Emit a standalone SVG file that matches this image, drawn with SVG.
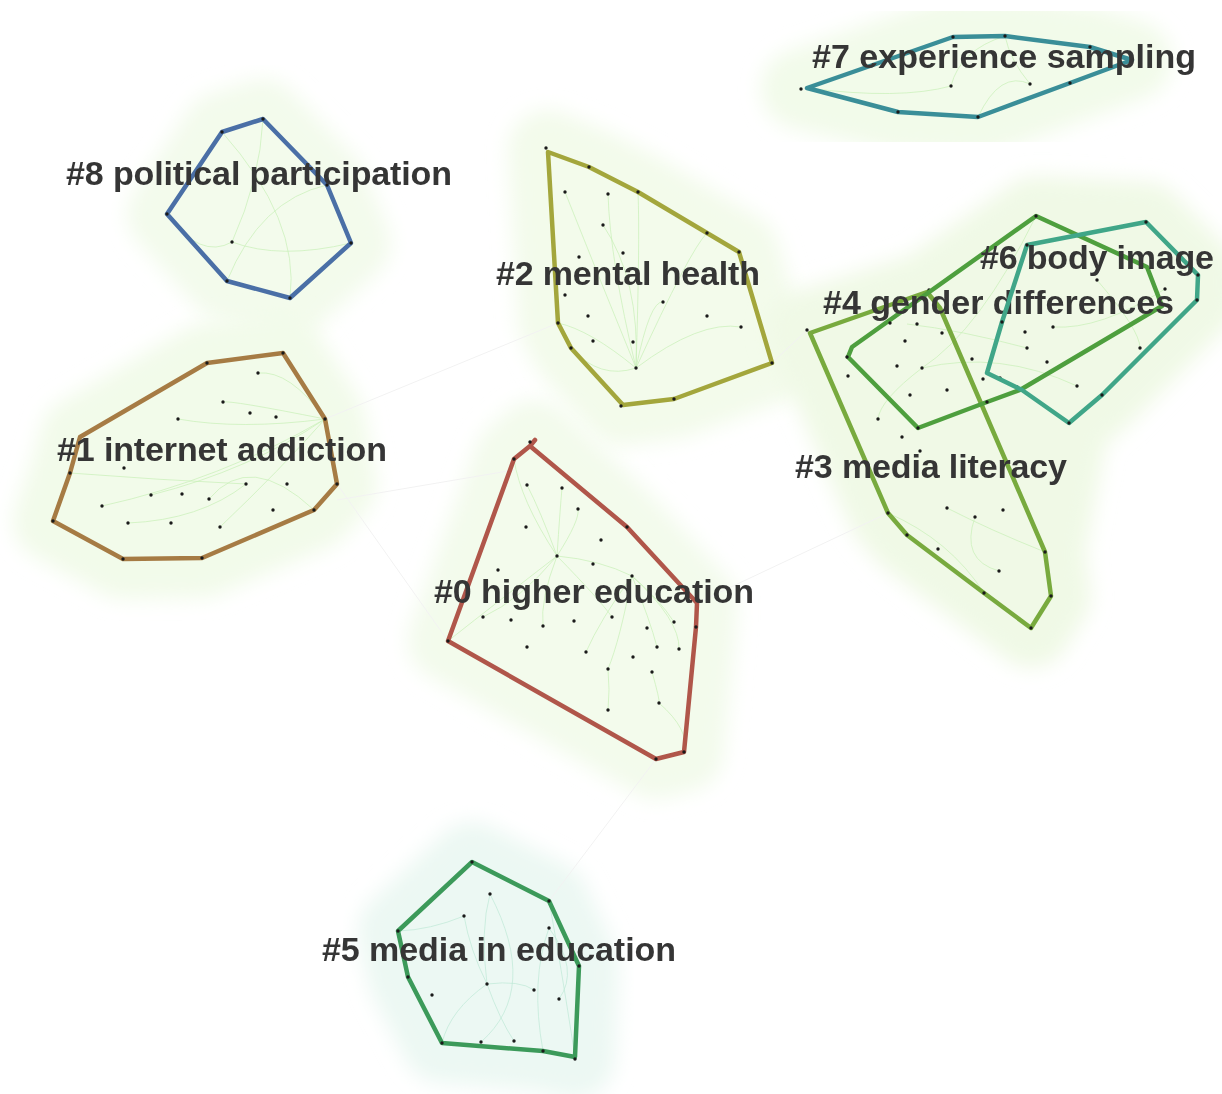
<svg xmlns="http://www.w3.org/2000/svg" width="1222" height="1094" viewBox="0 0 1222 1094">
<style>
.halo{stroke-width:80;stroke-linejoin:round;filter:url(#blur)}
.hull{fill:none;stroke-width:4.5;stroke-linejoin:round;stroke-linecap:round}
.dot{fill:#1a1a1a}
.edge{fill:none;stroke:#c9efb8;stroke-width:0.9;opacity:0.8}
.edge5{fill:none;stroke:#bfe9d6;stroke-width:0.9;opacity:0.8}
.link{stroke:#f2f2f2;stroke-width:1;fill:none}
.lbl{font-family:"Liberation Sans",Arial,Helvetica,sans-serif;font-weight:bold;font-size:34px;fill:#363636;filter:url(#soft)}
</style>
<defs>
<filter id="blur" x="-30%" y="-30%" width="160%" height="160%"><feGaussianBlur stdDeviation="10"/></filter>
<filter id="soft" x="-5%" y="-20%" width="110%" height="140%"><feGaussianBlur stdDeviation="0.6"/></filter>
</defs>
<rect width="1222" height="1094" fill="#ffffff"/>

<g id="halos">
<path class="halo" fill="#f3fbec" stroke="#f3fbec" d="M263,119 L327,185 L351,243 L290,298 L227,281 L167,214 L222,132 Z"/>
<path class="halo" fill="#f3fbeb" stroke="#f3fbeb" d="M548,150 L589,167 L638,192 L707,233 L739,252 L772,363 L674,399 L621,406 L571,348 L558,323 Z"/>
<path class="halo" fill="#f2fbea" stroke="#f2fbea" d="M801,89 L953,37 L1005,36 L1090,47 L1132,60 L1070,83 L978,117 L898,112 Z"/>
<path class="halo" fill="#f2fbea" stroke="#f2fbea" d="M207,363 L283,353 L325,419 L337,484 L314,510 L202,558 L123,559 L53,521 L70,473 L80,437 Z"/>
<path class="halo" fill="#f3fbec" stroke="#f3fbec" d="M535,440 L514,459 L448,641 L656,759 L684,752 L696,627 L697,603 L627,527 Z"/>
<path class="halo" fill="#f0f9e6" stroke="#f0f9e6" d="M807,330 L927,292 L1036,216 L1146,222 L1198,275 L1197,300 L1102,395 L1069,423 L1045,552 L1051,596 L1031,628 L984,593 L907,535 L888,513 Z"/>
<path class="halo" fill="#ecf8f3" stroke="#ecf8f3" d="M472,862 L549,901 L579,966 L575,1059 L543,1051 L442,1043 L408,977 L398,931 Z"/>
</g>

<g id="connectors">
<path class="link" d="M337,484 L448,641"/>
<path class="link" d="M325,419 L558,323"/>
<path class="link" d="M772,363 L807,330"/>
<path class="link" d="M697,603 L888,513"/>
<path class="link" d="M656,759 L549,901"/>
<path class="link" d="M337,500 L514,470"/>
<path class="edge" d="M232,242 Q260,180 263,119"/>
<path class="edge" d="M232,242 Q280,260 351,243"/>
<path class="edge" d="M232,242 Q200,260 167,214"/>
<path class="edge" d="M222,132 Q300,220 290,298"/>
<path class="edge" d="M227,281 Q260,200 327,185"/>
<path class="edge" d="M636,368 Q600,280 565,192"/>
<path class="edge" d="M636,368 Q610,260 608,194"/>
<path class="edge" d="M636,368 Q640,280 603,225"/>
<path class="edge" d="M636,368 Q650,300 663,302"/>
<path class="edge" d="M636,368 Q700,320 741,327"/>
<path class="edge" d="M636,368 Q590,330 558,323"/>
<path class="edge" d="M636,368 Q600,380 571,348"/>
<path class="edge" d="M636,368 Q690,250 707,233"/>
<path class="edge" d="M636,368 Q640,240 638,192"/>
<path class="edge" d="M325,419 Q240,430 178,419"/>
<path class="edge" d="M325,419 Q250,470 151,495"/>
<path class="edge" d="M325,419 Q220,480 102,506"/>
<path class="edge" d="M325,419 Q280,470 220,527"/>
<path class="edge" d="M325,419 Q290,370 258,373"/>
<path class="edge" d="M325,419 Q230,400 223,402"/>
<path class="edge" d="M246,484 Q160,480 70,473"/>
<path class="edge" d="M246,484 Q200,520 128,523"/>
<path class="edge" d="M314,510 Q250,450 209,499"/>
<path class="edge" d="M557,556 Q540,510 527,485"/>
<path class="edge" d="M557,556 Q560,510 562,488"/>
<path class="edge" d="M557,556 Q580,520 578,509"/>
<path class="edge" d="M557,556 Q520,500 514,459"/>
<path class="edge" d="M557,556 Q600,560 632,576"/>
<path class="edge" d="M557,556 Q520,600 483,617"/>
<path class="edge" d="M557,556 Q540,600 543,626"/>
<path class="edge" d="M557,556 Q600,600 612,617"/>
<path class="edge" d="M557,556 Q500,600 448,641"/>
<path class="edge" d="M632,576 Q660,600 674,622"/>
<path class="edge" d="M632,576 Q650,620 657,647"/>
<path class="edge" d="M632,576 Q600,620 586,652"/>
<path class="edge" d="M632,576 Q620,640 608,669"/>
<path class="edge" d="M632,576 Q680,620 679,649"/>
<path class="edge" d="M652,672 Q660,700 659,703"/>
<path class="edge" d="M659,703 Q690,730 684,752"/>
<path class="edge" d="M608,669 Q610,690 608,710"/>
<path class="edge" d="M1027,348 Q960,330 907,324"/>
<path class="edge" d="M922,368 Q980,330 1036,216"/>
<path class="edge" d="M922,368 Q1000,350 1077,386"/>
<path class="edge" d="M922,368 Q880,400 878,419"/>
<path class="edge" d="M947,508 Q990,530 1045,552"/>
<path class="edge" d="M975,517 Q960,560 999,571"/>
<path class="edge" d="M888,513 Q950,540 984,593"/>
<path class="edge" d="M1097,280 Q1140,330 1140,348"/>
<path class="edge" d="M1053,327 Q1100,330 1165,289"/>
<path class="edge5" d="M487,984 Q470,950 464,916"/>
<path class="edge5" d="M487,984 Q480,930 490,894"/>
<path class="edge5" d="M487,984 Q520,980 534,990"/>
<path class="edge5" d="M487,984 Q450,1010 442,1043"/>
<path class="edge5" d="M487,984 Q500,1020 514,1041"/>
<path class="edge5" d="M464,916 Q430,930 398,931"/>
<path class="edge5" d="M549,928 Q530,980 543,1051"/>
<path class="edge5" d="M549,928 Q580,970 559,999"/>
<path class="edge5" d="M549,901 Q560,960 575,1057"/>
<path class="edge5" d="M490,894 Q540,990 481,1042"/>
<path class="edge" d="M951,86 Q960,50 1005,36"/>
<path class="edge" d="M951,86 Q900,100 807,88"/>
<path class="edge" d="M1030,84 Q1010,60 1005,36"/>
<path class="edge" d="M978,117 Q1000,70 1030,84"/>
</g>

<g id="cluster-8">
<path class="hull" stroke="#4a6fa6" d="M263,119 L327,185 L351,243 L290,298 L227,281 L167,214 L222,132 Z"/>
<g class="dot"><circle cx="263" cy="119" r="1.7"/><circle cx="222" cy="132" r="1.7"/><circle cx="167" cy="214" r="1.7"/><circle cx="227" cy="281" r="1.7"/><circle cx="290" cy="298" r="1.7"/><circle cx="351" cy="243" r="1.7"/><circle cx="232" cy="242" r="1.7"/><circle cx="327" cy="185" r="1.7"/></g>
<text class="lbl" x="66" y="185" textLength="386" lengthAdjust="spacing">#8 political participation</text>
</g>

<g id="cluster-2">
<path class="hull" stroke="#a3a63c" d="M548,152 L589,167 L638,192 L707,233 L739,252 L772,363 L674,399 L623,405 L571,348 L558,323 Z"/>
<g class="dot"><circle cx="546" cy="148" r="1.7"/><circle cx="589" cy="167" r="1.7"/><circle cx="638" cy="192" r="1.7"/><circle cx="707" cy="233" r="1.7"/><circle cx="739" cy="252" r="1.7"/><circle cx="772" cy="363" r="1.7"/><circle cx="674" cy="399" r="1.7"/><circle cx="621" cy="406" r="1.7"/><circle cx="571" cy="348" r="1.7"/><circle cx="558" cy="323" r="1.7"/><circle cx="565" cy="192" r="1.7"/><circle cx="608" cy="194" r="1.7"/><circle cx="603" cy="225" r="1.7"/><circle cx="579" cy="257" r="1.7"/><circle cx="623" cy="253" r="1.7"/><circle cx="565" cy="295" r="1.7"/><circle cx="588" cy="316" r="1.7"/><circle cx="663" cy="302" r="1.7"/><circle cx="707" cy="316" r="1.7"/><circle cx="741" cy="327" r="1.7"/><circle cx="593" cy="341" r="1.7"/><circle cx="633" cy="342" r="1.7"/><circle cx="636" cy="368" r="1.7"/></g>
<text class="lbl" x="496" y="285" textLength="264" lengthAdjust="spacing">#2 mental health</text>
</g>

<g id="cluster-7">
<path class="hull" stroke="#3a8e98" d="M807,88 L953,37 L1005,36 L1090,47 L1132,60 L1070,83 L978,117 L898,112 Z"/>
<g class="dot"><circle cx="801" cy="89" r="1.7"/><circle cx="953" cy="37" r="1.7"/><circle cx="1005" cy="36" r="1.7"/><circle cx="1090" cy="47" r="1.7"/><circle cx="1132" cy="60" r="1.7"/><circle cx="1070" cy="83" r="1.7"/><circle cx="978" cy="117" r="1.7"/><circle cx="898" cy="112" r="1.7"/><circle cx="951" cy="86" r="1.7"/><circle cx="1030" cy="84" r="1.7"/></g>
<text class="lbl" x="812" y="68" textLength="384" lengthAdjust="spacing">#7 experience sampling</text>
</g>

<g id="cluster-1">
<path class="hull" stroke="#a67b44" d="M207,363 L283,353 L325,419 L337,484 L314,510 L202,558 L123,559 L53,521 L70,473 L80,437 Z"/>
<g class="dot"><circle cx="207" cy="363" r="1.7"/><circle cx="283" cy="353" r="1.7"/><circle cx="325" cy="419" r="1.7"/><circle cx="337" cy="484" r="1.7"/><circle cx="314" cy="510" r="1.7"/><circle cx="202" cy="558" r="1.7"/><circle cx="123" cy="559" r="1.7"/><circle cx="53" cy="521" r="1.7"/><circle cx="70" cy="473" r="1.7"/><circle cx="258" cy="373" r="1.7"/><circle cx="223" cy="402" r="1.7"/><circle cx="250" cy="413" r="1.7"/><circle cx="276" cy="417" r="1.7"/><circle cx="178" cy="419" r="1.7"/><circle cx="124" cy="468" r="1.7"/><circle cx="246" cy="484" r="1.7"/><circle cx="287" cy="484" r="1.7"/><circle cx="151" cy="495" r="1.7"/><circle cx="182" cy="494" r="1.7"/><circle cx="209" cy="499" r="1.7"/><circle cx="102" cy="506" r="1.7"/><circle cx="273" cy="510" r="1.7"/><circle cx="128" cy="523" r="1.7"/><circle cx="171" cy="523" r="1.7"/><circle cx="220" cy="527" r="1.7"/></g>
<text class="lbl" x="57" y="461" textLength="330" lengthAdjust="spacing">#1 internet addiction</text>
</g>

<g id="cluster-0">
<path class="hull" stroke="#b0564a" d="M535,440 L530,446 L514,459 L448,641 L656,759 L684,752 L696,627 L697,603 L627,527 L530,446"/>
<g class="dot"><circle cx="530" cy="442" r="1.7"/><circle cx="514" cy="459" r="1.7"/><circle cx="627" cy="527" r="1.7"/><circle cx="696" cy="627" r="1.7"/><circle cx="684" cy="752" r="1.7"/><circle cx="656" cy="759" r="1.7"/><circle cx="448" cy="641" r="1.7"/><circle cx="527" cy="485" r="1.7"/><circle cx="562" cy="488" r="1.7"/><circle cx="578" cy="509" r="1.7"/><circle cx="526" cy="527" r="1.7"/><circle cx="601" cy="540" r="1.7"/><circle cx="557" cy="556" r="1.7"/><circle cx="593" cy="564" r="1.7"/><circle cx="498" cy="570" r="1.7"/><circle cx="632" cy="576" r="1.7"/><circle cx="483" cy="617" r="1.7"/><circle cx="511" cy="620" r="1.7"/><circle cx="543" cy="626" r="1.7"/><circle cx="574" cy="621" r="1.7"/><circle cx="612" cy="617" r="1.7"/><circle cx="647" cy="628" r="1.7"/><circle cx="674" cy="622" r="1.7"/><circle cx="527" cy="647" r="1.7"/><circle cx="657" cy="647" r="1.7"/><circle cx="679" cy="649" r="1.7"/><circle cx="586" cy="652" r="1.7"/><circle cx="633" cy="657" r="1.7"/><circle cx="608" cy="669" r="1.7"/><circle cx="652" cy="672" r="1.7"/><circle cx="659" cy="703" r="1.7"/><circle cx="608" cy="710" r="1.7"/></g>
<text class="lbl" x="434" y="603" textLength="320" lengthAdjust="spacing">#0 higher education</text>
</g>

<g id="cluster-3">
<path class="hull" stroke="#78aa3e" d="M810,333 L927,292 L940,308 L1045,552 L1051,596 L1031,628 L984,593 L907,535 L888,513 Z"/>
<g class="dot"><circle cx="807" cy="330" r="1.7"/><circle cx="929" cy="290" r="1.7"/><circle cx="1045" cy="552" r="1.7"/><circle cx="1051" cy="596" r="1.7"/><circle cx="1031" cy="628" r="1.7"/><circle cx="984" cy="593" r="1.7"/><circle cx="907" cy="535" r="1.7"/><circle cx="888" cy="513" r="1.7"/><circle cx="947" cy="508" r="1.7"/><circle cx="975" cy="517" r="1.7"/><circle cx="1003" cy="510" r="1.7"/><circle cx="938" cy="549" r="1.7"/><circle cx="999" cy="571" r="1.7"/><circle cx="878" cy="419" r="1.7"/><circle cx="902" cy="437" r="1.7"/><circle cx="920" cy="451" r="1.7"/></g>
<text class="lbl" x="795" y="478" textLength="272" lengthAdjust="spacing">#3 media literacy</text>
</g>

<g id="cluster-4">
<path class="hull" stroke="#4e9f3e" d="M1036,216 L1147,267 L1162,306 L1020,390 L987,402 L918,428 L848,357 L852,347 Z"/>
<g class="dot"><circle cx="1036" cy="216" r="1.7"/><circle cx="1165" cy="289" r="1.7"/><circle cx="987" cy="402" r="1.7"/><circle cx="918" cy="428" r="1.7"/><circle cx="847" cy="357" r="1.7"/><circle cx="848" cy="376" r="1.7"/><circle cx="890" cy="323" r="1.7"/><circle cx="917" cy="324" r="1.7"/><circle cx="942" cy="333" r="1.7"/><circle cx="905" cy="341" r="1.7"/><circle cx="897" cy="366" r="1.7"/><circle cx="922" cy="368" r="1.7"/><circle cx="910" cy="395" r="1.7"/><circle cx="947" cy="390" r="1.7"/><circle cx="972" cy="359" r="1.7"/><circle cx="983" cy="379" r="1.7"/><circle cx="1000" cy="378" r="1.7"/><circle cx="1017" cy="387" r="1.7"/></g>
<text class="lbl" x="823" y="314" textLength="351" lengthAdjust="spacing">#4 gender differences</text>
</g>

<g id="cluster-6">
<path class="hull" stroke="#40a688" d="M1027,245 L1146,222 L1198,275 L1197,300 L1102,395 L1069,423 L1022,390 L987,373 L1002,322 Z"/>
<g class="dot"><circle cx="1146" cy="222" r="1.7"/><circle cx="1198" cy="275" r="1.7"/><circle cx="1197" cy="300" r="1.7"/><circle cx="1102" cy="395" r="1.7"/><circle cx="1069" cy="423" r="1.7"/><circle cx="1097" cy="280" r="1.7"/><circle cx="1002" cy="322" r="1.7"/><circle cx="1025" cy="332" r="1.7"/><circle cx="1053" cy="327" r="1.7"/><circle cx="1027" cy="348" r="1.7"/><circle cx="1140" cy="348" r="1.7"/><circle cx="1047" cy="362" r="1.7"/><circle cx="1077" cy="386" r="1.7"/><circle cx="1027" cy="245" r="1.7"/></g>
<text class="lbl" x="980" y="269" textLength="234" lengthAdjust="spacing">#6 body image</text>
</g>

<g id="cluster-5">
<path class="hull" stroke="#3c9a5a" d="M472,862 L549,901 L579,966 L575,1057 L543,1051 L442,1043 L408,977 L398,931 Z"/>
<g class="dot"><circle cx="472" cy="862" r="1.7"/><circle cx="549" cy="901" r="1.7"/><circle cx="579" cy="966" r="1.7"/><circle cx="575" cy="1059" r="1.7"/><circle cx="543" cy="1051" r="1.7"/><circle cx="442" cy="1043" r="1.7"/><circle cx="408" cy="977" r="1.7"/><circle cx="398" cy="931" r="1.7"/><circle cx="490" cy="894" r="1.7"/><circle cx="464" cy="916" r="1.7"/><circle cx="549" cy="928" r="1.7"/><circle cx="487" cy="984" r="1.7"/><circle cx="534" cy="990" r="1.7"/><circle cx="559" cy="999" r="1.7"/><circle cx="432" cy="995" r="1.7"/><circle cx="481" cy="1042" r="1.7"/><circle cx="514" cy="1041" r="1.7"/></g>
<text class="lbl" x="322" y="961" textLength="354" lengthAdjust="spacing">#5 media in education</text>
</g>
</svg>
